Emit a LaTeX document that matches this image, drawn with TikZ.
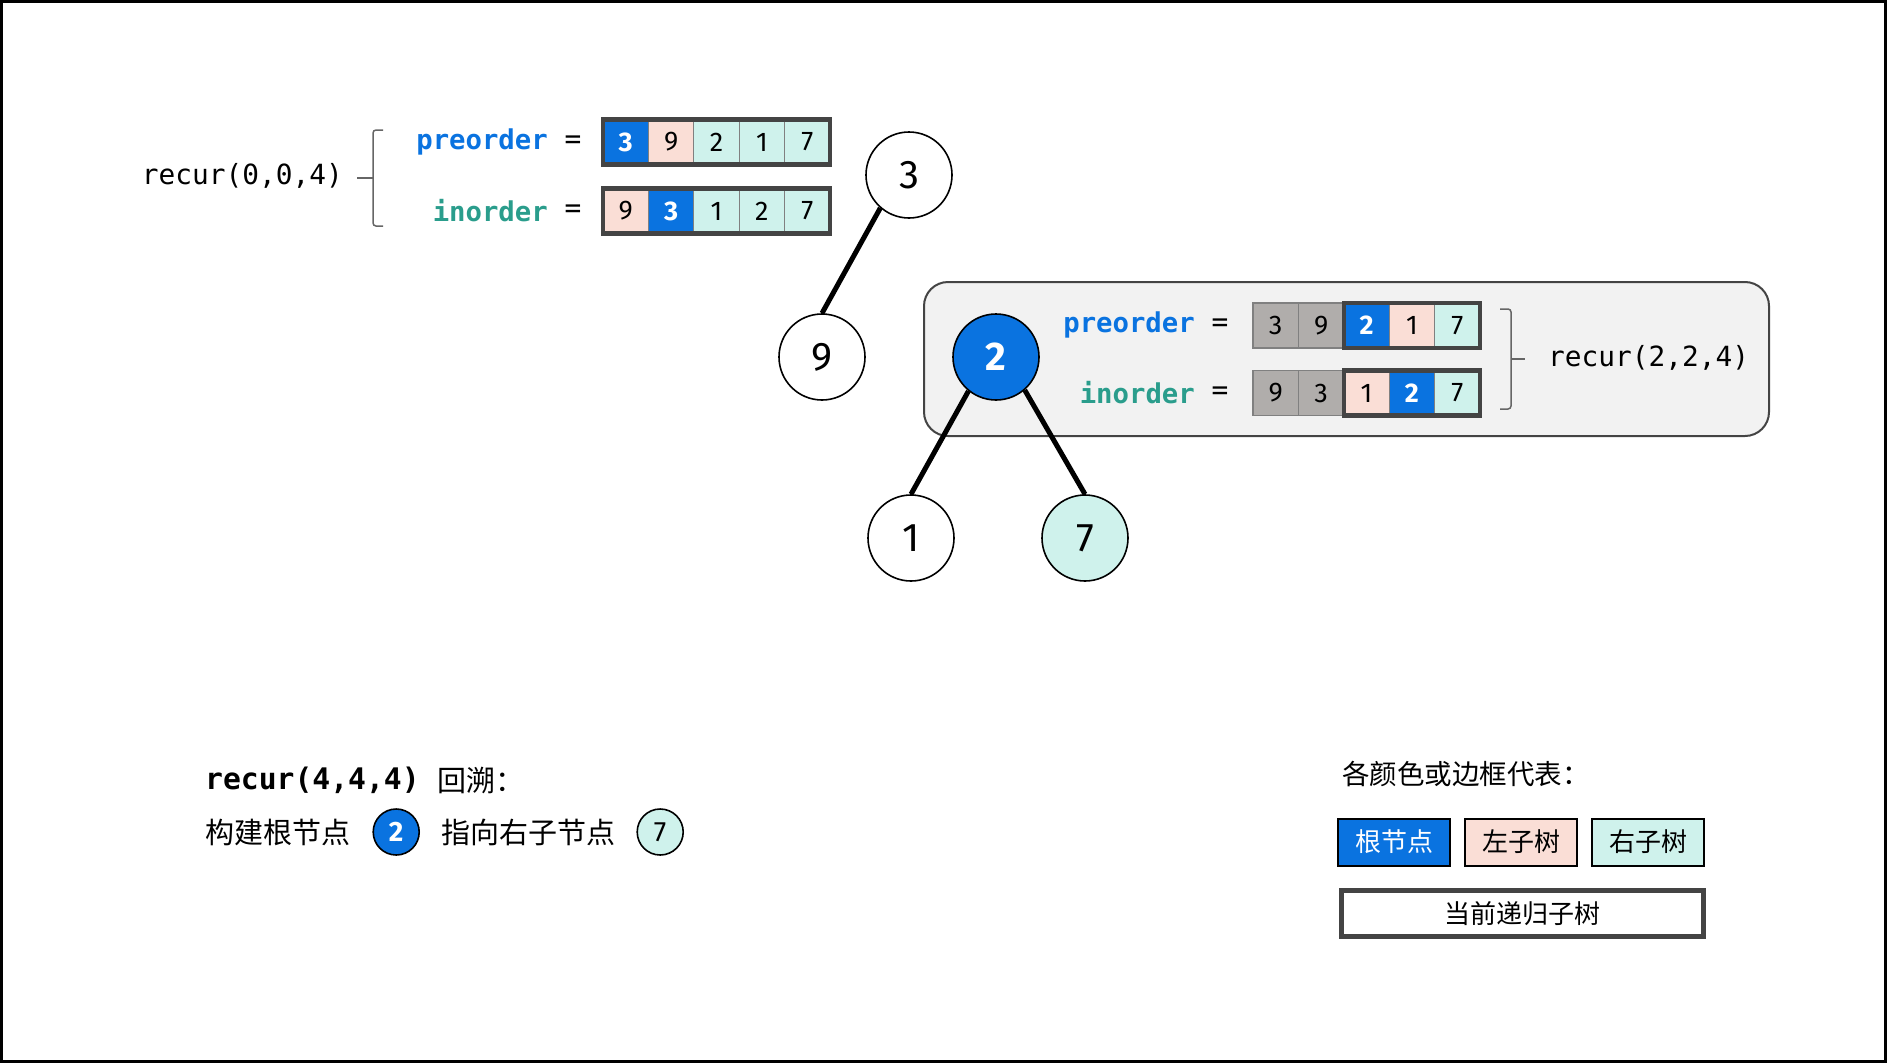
\documentclass[tikz,border=0pt]{standalone}
\usepackage{fontspec}
\setmainfont{Fira Sans}
\setmonofont{DejaVu Sans Mono}
\newfontfamily\cjk{Noto Sans CJK SC}
\usetikzlibrary{positioning}

\definecolor{raizazul}{HTML}{0A73E0}
\definecolor{izqrosa}{HTML}{FADED6}
\definecolor{dermenta}{HTML}{CFF2EC}
\definecolor{usadogris}{HTML}{B0ADAB}
\definecolor{panelgris}{HTML}{F2F2F2}
\definecolor{bordegris}{HTML}{444444}
\definecolor{tealtexto}{HTML}{2A9D8C}

\begin{document}
\begin{tikzpicture}[x=1pt, y=-1pt,
	arbol/.style={circle, draw, line width=1.6pt, minimum size=86pt, inner sep=0pt, font=\fontsize{40}{44}\selectfont},
	mini/.style={circle, draw, line width=1.6pt, minimum size=46pt, inner sep=0pt, font=\fontsize{28}{30}\selectfont},
	arista/.style={line width=5pt},
	celda/.style={draw=gray, line width=1.2pt, minimum width=45.4pt, minimum height=45pt, inner sep=0pt, outer sep=0pt, font=\fontsize{27}{28}\selectfont},
	raiz/.style={celda, fill=raizazul, text=white, font=\fontsize{27}{28}\selectfont\bfseries},
	izq/.style={celda, fill=izqrosa},
	der/.style={celda, fill=dermenta},
	usado/.style={celda, fill=usadogris},
	marco/.style={draw=bordegris, line width=4.5pt},
	codigo/.style={inner sep=0pt, font=\fontsize{27.8}{30}\ttfamily},
	etiqueta/.style={inner sep=0pt, font=\fontsize{27.3}{30}\ttfamily\bfseries},
	llave/.style={draw=gray!80!black, line width=1.5pt, rounded corners=3pt},
	texto/.style={inner sep=0pt, font=\fontsize{29}{30}\cjk},
	leyenda/.style={draw, line width=2pt, minimum width=112pt, minimum height=47pt, inner sep=0pt, font=\fontsize{26}{28}\cjk}
	]

	\useasboundingbox (0,0) rectangle (1887,1063);
	\draw[line width=3pt] (1.5,1.5) rectangle (1885.5,1061.5);

	%Llamada recur(0,0,4)
	\node[codigo, anchor=east] (r1) at (343,176) {recur(0,0,4)};
	\draw[llave] (383,130) -- (373,130) -- (373,226) -- (383,226);
	\draw[llave] (373,178) -- (357,178);
	\node[etiqueta, anchor=east, text=raizazul] (pre1) at (548,142) {preorder};
	\node[etiqueta, anchor=east, text=tealtexto] (in1) at (548,211) {inorder};
	\node[codigo] (eq1) at (573,142) {=};
	\node[codigo] (eq2) at (573,211) {=};

	%Arreglo preorder
	\node[raiz] (p1) at (625.7,142) {3};
	\node[izq, right=0pt of p1] (p2) {9};
	\node[der, right=0pt of p2] (p3) {2};
	\node[der, right=0pt of p3] (p4) {1};
	\node[der, right=0pt of p4] (p5) {7};
	\draw[marco] (p1.north west) rectangle (p5.south east);
	%Arreglo inorder
	\node[izq] (i1) at (625.7,211) {9};
	\node[raiz, right=0pt of i1] (i2) {3};
	\node[der, right=0pt of i2] (i3) {1};
	\node[der, right=0pt of i3] (i4) {2};
	\node[der, right=0pt of i4] (i5) {7};
	\draw[marco] (i1.north west) rectangle (i5.south east);

	%Panel de recur(2,2,4)
	\draw[draw=bordegris, fill=panelgris, line width=2pt, rounded corners=24pt] (924,282) rectangle (1769,436);
	\node[etiqueta, anchor=east, text=raizazul] (pre2) at (1195,325) {preorder};
	\node[etiqueta, anchor=east, text=tealtexto] (in2) at (1195,393) {inorder};
	\node[codigo] (eq3) at (1220,325) {=};
	\node[codigo] (eq4) at (1220,393) {=};

	\node[usado] (q1) at (1275.7,325.5) {3};
	\node[usado, right=0pt of q1] (q2) {9};
	\node[raiz, right=0pt of q2] (q3) {2};
	\node[izq, right=0pt of q3] (q4) {1};
	\node[der, right=0pt of q4] (q5) {7};
	\draw[marco] (q3.north west) rectangle (q5.south east);

	\node[usado] (j1) at (1275.7,393) {9};
	\node[usado, right=0pt of j1] (j2) {3};
	\node[izq, right=0pt of j2] (j3) {1};
	\node[raiz, right=0pt of j3] (j4) {2};
	\node[der, right=0pt of j4] (j5) {7};
	\draw[marco] (j3.north west) rectangle (j5.south east);

	\draw[llave] (1500,309) -- (1511,309) -- (1511,409) -- (1500,409);
	\draw[llave] (1511,359) -- (1525,359);
	\node[codigo, anchor=west] (r2) at (1548,358) {recur(2,2,4)};

	%Nodos del arbol
	\node[arbol] (n3) at (909,175) {3};
	\node[arbol] (n9) at (822,357) {9};
	\node[arbol, fill=raizazul, text=white, font=\fontsize{40}{44}\selectfont\bfseries] (n2) at (996,357) {2};
	\node[arbol] (n1) at (911,538) {1};
	\node[arbol, fill=dermenta] (n7) at (1085,538) {7};
	%Aristas
	\draw[arista] (n3.229) -- (n9.north);
	\draw[arista] (n2.231) -- (n1.north);
	\draw[arista] (n2.311) -- (n7.north);

	%Texto de retroceso
	\node[inner sep=0pt, anchor=west, font=\fontsize{29.7}{30}\ttfamily\bfseries] (r3) at (205,780) {recur(4,4,4)};
	\node[texto, anchor=west, right=17pt of r3] (hs) {回溯：};
	\node[texto, anchor=west] (t1) at (205,832) {构建根节点};
	\node[mini, fill=raizazul, text=white, font=\fontsize{28}{30}\selectfont\bfseries, right=22pt of t1] (c2) {2};
	\node[texto, right=21pt of c2] (t2) {指向右子节点};
	\node[mini, fill=dermenta, right=21pt of t2] (c7) {7};

	%Leyenda
	\node[texto, anchor=west, font=\fontsize{27.5}{30}\cjk] (ley) at (1342,774) {各颜色或边框代表：};
	\node[leyenda, fill=raizazul, text=white] (l1) at (1394,842) {根节点};
	\node[leyenda, fill=izqrosa, right=13pt of l1] (l2) {左子树};
	\node[leyenda, fill=dermenta, right=13pt of l2] (l3) {右子树};
	\node[leyenda, draw=bordegris, line width=5pt, minimum width=362pt, minimum height=46pt, anchor=north west] (l4) at (1339,888) {当前递归子树};

\end{tikzpicture}
\end{document}
